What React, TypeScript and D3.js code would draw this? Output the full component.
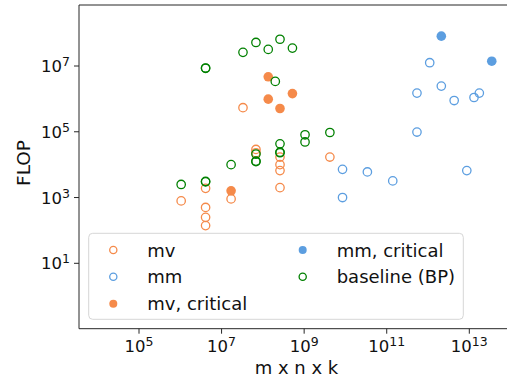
import React from "react";
import * as d3 from "d3";

const mvX = [1.05e6, 4.1e6, 4.1e6, 4.1e6, 4.1e6, 1.7e7, 3.3e7, 6.8e7, 6.8e7, 2.6e8, 2.6e8, 2.6e8, 2.6e8, 4.2e9];
const mvY = [7.9e2, 1.9e3, 5.0e2, 2.5e2, 1.4e2, 9.1e2, 5.4e5, 2.9e4, 2.3e4, 1.7e4, 1.0e4, 6.6e3, 2.0e3, 1.7e4];

const mmX = [8.5e9, 8.5e9, 3.4e10, 1.4e11, 5.4e11, 5.4e11, 1.1e12, 2.1e12, 4.3e12, 1.3e13, 1.75e13, 8.7e12];
const mmY = [7.2e3, 1.0e3, 6.0e3, 3.2e3, 1.5e6, 9.8e4, 1.26e7, 2.45e6, 8.9e5, 1.1e6, 1.5e6, 6.6e3];

const mvCritX = [1.7e7, 1.35e8, 1.35e8, 2.6e8, 5.2e8];
const mvCritY = [1.6e3, 4.7e6, 9.8e5, 5.1e5, 1.45e6];

const mmCritX = [2.1e12, 3.5e13];
const mmCritY = [8.1e7, 1.4e7];

const baseX = [1.05e6, 4.1e6, 4.1e6, 4.1e6, 4.1e6, 1.7e7, 3.3e7, 6.8e7, 1.35e8, 2.6e8, 2.0e8, 6.8e7, 6.8e7, 6.8e7, 2.6e8, 2.6e8, 2.6e8, 5.2e8, 1.05e9, 1.05e9, 4.2e9];
const baseY = [2.5e3, 3.0e3, 3.1e3, 8.5e6, 8.7e6, 1.0e4, 2.6e7, 5.2e7, 3.2e7, 6.5e7, 3.4e6, 2.1e4, 1.23e4, 1.28e4, 4.3e4, 2.3e4, 2.4e4, 3.5e7, 8.1e4, 4.9e4, 9.5e4];

const xTicks = [5, 7, 9, 11, 13];
const yTicks = [1, 3, 5, 7];

const ORANGE = "#f58a4a";
const BLUE = "#5c9ee0";
const GREEN = "#008000";

const series = [
  { label: "mv", xs: mvX, ys: mvY, color: ORANGE, filled: false },
  { label: "mm", xs: mmX, ys: mmY, color: BLUE, filled: false },
  { label: "mv, critical", xs: mvCritX, ys: mvCritY, color: ORANGE, filled: true },
  { label: "mm, critical", xs: mmCritX, ys: mmCritY, color: BLUE, filled: true },
  { label: "baseline (BP)", xs: baseX, ys: baseY, color: GREEN, filled: false },
];

const FONT = "DejaVu Sans";

export default function App() {
  const left = 79, top = 5, bottom = 328.7, right = 514;
  const x = d3.scaleLog().domain([1e5, 1e13]).range([139, 469.3]);
  const y = d3.scaleLog().domain([1e1, 1e7]).range([263.3, 66]);
  const R = 4.2;

  const legendRows = [
    { s: series[0], lx: 113.3, tx: 147.3, ly: 250 },
    { s: series[1], lx: 113.3, tx: 147.3, ly: 276.7 },
    { s: series[2], lx: 113.3, tx: 147.3, ly: 303.7 },
    { s: series[3], lx: 302.7, tx: 336.7, ly: 250 },
    { s: series[4], lx: 302.7, tx: 336.7, ly: 276.7 },
  ];

  return (
    <svg width={507} height={380} style={{ position: "absolute", left: 0, top: 0 }} fontFamily={FONT}>
      <rect x={0} y={0} width={507} height={380} fill="white" />
      {series.map((s, si) => (
        <g key={si}>
          {s.xs.map((xv, i) => (
            <circle
              key={i}
              cx={x(xv)}
              cy={y(s.ys[i])}
              r={s.filled ? R + 0.6 : R}
              fill={s.filled ? s.color : "none"}
              stroke={s.filled ? "none" : s.color}
              strokeWidth={1.3}
            />
          ))}
        </g>
      ))}
      {/* spines */}
      <line x1={left} x2={left} y1={top} y2={bottom} stroke="#262626" strokeWidth={1} />
      <line x1={left} x2={right} y1={bottom} y2={bottom} stroke="#262626" strokeWidth={1} />
      <line x1={left} x2={right} y1={top} y2={top} stroke="#262626" strokeWidth={1} />
      {/* x ticks */}
      {xTicks.map((e) => {
        const px = x(Math.pow(10, e));
        return (
          <g key={e}>
            <line x1={px} x2={px} y1={bottom} y2={bottom + 5} stroke="#262626" strokeWidth={1} />
            <text x={px} y={351.5} textAnchor="middle" fontSize={16.5} fill="#111">
              10<tspan fontSize={12.5} dy={-6}>{e}</tspan>
            </text>
          </g>
        );
      })}
      {/* y ticks */}
      {yTicks.map((e) => {
        const py = y(Math.pow(10, e));
        return (
          <g key={e}>
            <line x1={left - 5} x2={left} y1={py} y2={py} stroke="#262626" strokeWidth={1} />
            <text x={70} y={py + 6} textAnchor="end" fontSize={16.5} fill="#111">
              10<tspan fontSize={12.5} dy={-6}>{e}</tspan>
            </text>
          </g>
        );
      })}
      <text x={296.5} y={374} textAnchor="middle" fontSize={18} fill="#111">m x n x k</text>
      <text transform={`translate(29.5,163) rotate(-90)`} textAnchor="middle" fontSize={18.5} fill="#111">FLOP</text>
      {/* legend */}
      <rect x={88.7} y={233.3} width={374.6} height={86} rx={4} fill="white" fillOpacity={0.8} stroke="#d6d6d6" strokeWidth={1} />
      {legendRows.map((r, i) => (
        <g key={i}>
          <circle
            cx={r.lx}
            cy={r.ly}
            r={r.s.filled ? 4 : 3.6}
            fill={r.s.filled ? r.s.color : "none"}
            stroke={r.s.filled ? "none" : r.s.color}
            strokeWidth={1.3}
          />
          <text x={r.tx} y={r.ly + 6.5} fontSize={18} fill="#111">{r.s.label}</text>
        </g>
      ))}
    </svg>
  );
}
